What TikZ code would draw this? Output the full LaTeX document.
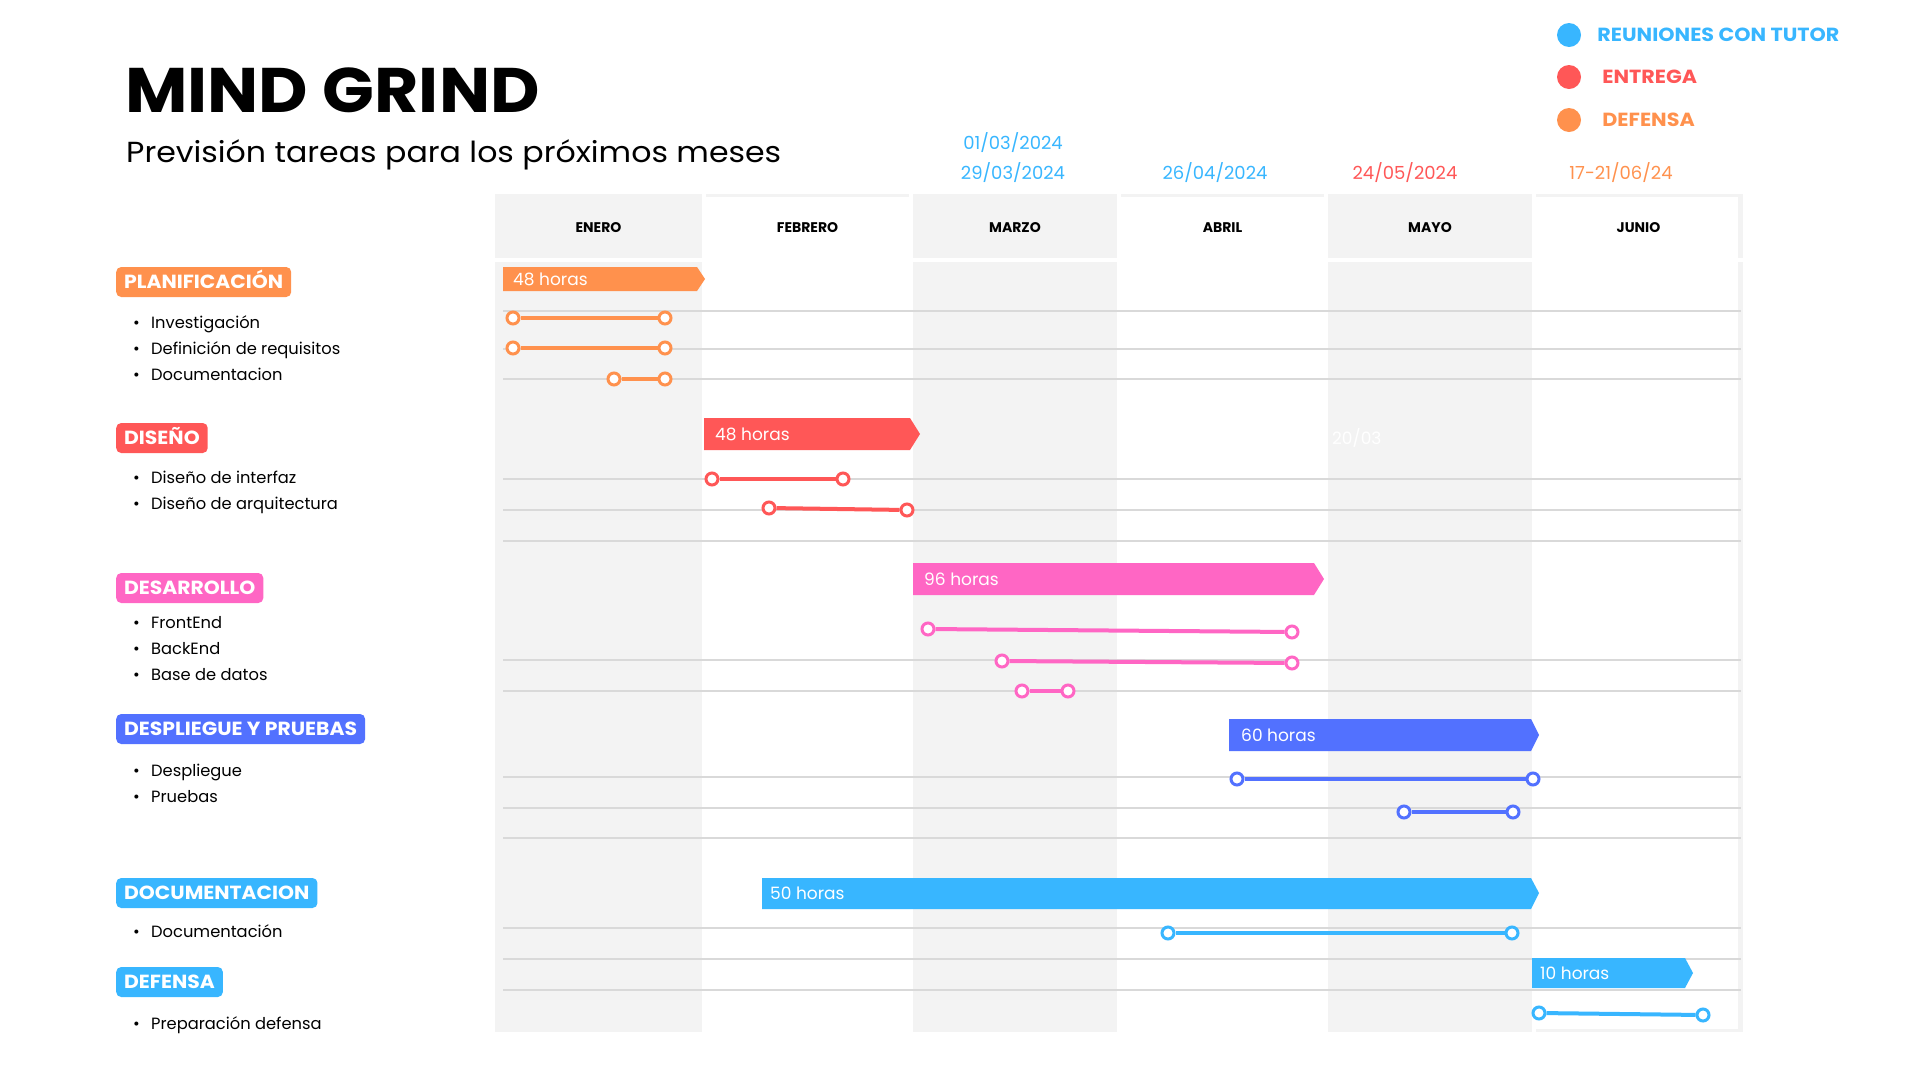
\documentclass[tikz,border=0pt]{standalone}
\usepackage{fontspec}
\setmainfont{Poppins}
\usepackage{xcolor}
\usepackage{tikz}
\usetikzlibrary{positioning}
\definecolor{mgorange}{HTML}{FF914D}
\definecolor{mgred}{HTML}{FF5757}
\definecolor{mgpink}{HTML}{FF66C4}
\definecolor{mgblue}{HTML}{5271FF}
\definecolor{mgsky}{HTML}{38B6FF}
\definecolor{mgcol}{HTML}{F3F3F3}
\definecolor{mggrid}{HTML}{D9D9D9}
\newcommand{\wide}[1]{\scalebox{1.07}[1]{#1}}
\tikzset{
  monthlbl/.style={font=\fontsize{14}{14}\selectfont\bfseries, text height=10pt,
                   text depth=0pt, inner sep=0pt},
  datelbl/.style={font=\fontsize{18}{18}\selectfont, text height=12.5pt,
                  text depth=0pt, inner sep=0pt},
  cattag/.style={anchor=west, rounded corners=5pt, text=white, inner xsep=8pt,
                 font=\fontsize{19}{19}\selectfont\bfseries, text height=13.3pt,
                 text depth=0pt, minimum height=30pt},
  taskitem/.style={anchor=base west, inner sep=0pt, font=\fontsize{16.3}{16.3}\selectfont},
  hrslbl/.style={anchor=west, inner sep=0pt, text=white,
                 font=\fontsize{17}{17}\selectfont, text height=12pt, text depth=0pt},
  gridline/.style={draw=mggrid, line width=2.5pt},
  taskend/.style={circle, draw=#1, fill=white, line width=3pt,
                  minimum size=12pt, inner sep=0pt},
  taskseg/.style={draw=#1, line width=4pt},
  legdot/.style={circle, minimum size=24pt, inner sep=0pt},
  legtxt/.style={anchor=west, inner sep=0pt, font=\fontsize{19}{19}\selectfont\bfseries,
                 text height=13.3pt, text depth=0pt},
}

\begin{document}
\begin{tikzpicture}[x=1pt, y=-1pt]
  \useasboundingbox (0,0) rectangle (1920,1080);

  % Title
  \node[anchor=base west, inner sep=0pt, font=\fontsize{63}{63}\selectfont\bfseries]
    (title) at (125,112) {\scalebox{1.08}[1]{MIND GRIND}};
  \node[anchor=base west, inner sep=0pt, font=\fontsize{29}{29}\selectfont]
    (subtitle) at (126,162) {\scalebox{1.09}[1]{Previsión tareas para los próximos meses}};

  % Legend
  \node[legdot, fill=mgsky] (leg-tutor) at (1569,35) {};
  \node[legdot, fill=mgred] (leg-entrega) at (1569,77) {};
  \node[legdot, fill=mgorange] (leg-defensa) at (1569,120) {};
  \node[legtxt, text=mgsky, right=16pt of leg-tutor] (leg-tutor-txt)
    {\scalebox{1.09}[1]{REUNIONES CON TUTOR}};
  \node[legtxt, text=mgred, right=21pt of leg-entrega] (leg-entrega-txt)
    {\scalebox{1.09}[1]{ENTREGA}};
  \node[legtxt, text=mgorange, right=21pt of leg-defensa] (leg-defensa-txt)
    {\scalebox{1.09}[1]{DEFENSA}};

  % Dates
  \node[datelbl, text=mgsky] (d-marzo-a) at (1013,143) {01/03/2024};
  \node[datelbl, text=mgsky] (d-marzo-b) at (1013,173) {29/03/2024};
  \node[datelbl, text=mgsky] (d-abril) at (1215,173) {26/04/2024};
  \node[datelbl, text=mgred] (d-mayo) at (1405,173) {24/05/2024};
  \node[datelbl, text=mgorange] (d-junio) at (1621,173) {17-21/06/24};

  % Month columns
  \foreach \m/\xa/\xb/\bg in {ENERO/495/702/mgcol, FEBRERO/706/909/white,
      MARZO/913/1117/mgcol, ABRIL/1121/1324/white, MAYO/1328/1532/mgcol,
      JUNIO/1536/1741/white} {
    \fill[\bg] (\xa,194) rectangle (\xb,258);
    \fill[\bg] (\xa,262) rectangle (\xb,1032);
    \fill[mgcol] (\xa,194) rectangle (\xb,197);
    \node[monthlbl] (hd-\m) at ({(\xa+\xb)/2},227) {\m};
  }
  \fill[mgcol] (1738,194) rectangle (1743,258);
  \fill[mgcol] (1738,262) rectangle (1743,1032);
  \fill[mgcol] (1536,1029) rectangle (1743,1032);

  % Grid lines
  \foreach \y in {311,349,379,479,510,541,660,691,777,808,838,928,959,990}
    \draw[gridline] (503,\y) -- (1741,\y);

  % Categories
  \node[cattag, fill=mgorange] (plan) at (116,282) {\wide{PLANIFICACIÓN}};
  \node[taskitem] (plan-1) at (133,328) {\makebox[18pt][l]{\textbullet}Investigación};
  \node[taskitem] (plan-2) at (133,354) {\makebox[18pt][l]{\textbullet}Definición de requisitos};
  \node[taskitem] (plan-3) at (133,380) {\makebox[18pt][l]{\textbullet}Documentacion};

  \node[cattag, fill=mgred] (dis) at (116,438) {\wide{DISEÑO}};
  \node[taskitem] (dis-1) at (133,483) {\makebox[18pt][l]{\textbullet}Diseño de interfaz};
  \node[taskitem] (dis-2) at (133,509) {\makebox[18pt][l]{\textbullet}Diseño de arquitectura};

  \node[cattag, fill=mgpink] (des) at (116,588) {\wide{DESARROLLO}};
  \node[taskitem] (des-1) at (133,628) {\makebox[18pt][l]{\textbullet}FrontEnd};
  \node[taskitem] (des-2) at (133,654) {\makebox[18pt][l]{\textbullet}BackEnd};
  \node[taskitem] (des-3) at (133,680) {\makebox[18pt][l]{\textbullet}Base de datos};

  \node[cattag, fill=mgblue] (dep) at (116,729) {\wide{DESPLIEGUE Y PRUEBAS}};
  \node[taskitem] (dep-1) at (133,776) {\makebox[18pt][l]{\textbullet}Despliegue};
  \node[taskitem] (dep-2) at (133,802) {\makebox[18pt][l]{\textbullet}Pruebas};

  \node[cattag, fill=mgsky] (doc) at (116,893) {\wide{DOCUMENTACION}};
  \node[taskitem] (doc-1) at (133,937) {\makebox[18pt][l]{\textbullet}Documentación};

  \node[cattag, fill=mgsky] (def) at (116,982) {\wide{DEFENSA}};
  \node[taskitem] (def-1) at (133,1029) {\makebox[18pt][l]{\textbullet}Preparación defensa};

  % Hour bars
  \fill[mgorange] (503,267) -- (697,267) -- (705,279) -- (697,291) -- (503,291) -- cycle;
  \node[hrslbl] (plan-hrs) at (513,279) {48 horas};
  \fill[mgred] (704,418) -- (910,418) -- (920,434) -- (910,450) -- (704,450) -- cycle;
  \node[hrslbl] (dis-hrs) at (715,434) {48 horas};
  \fill[mgpink] (913,563) -- (1314,563) -- (1324,579) -- (1314,595) -- (913,595) -- cycle;
  \node[hrslbl] (des-hrs) at (924,579) {96 horas};
  \fill[mgblue] (1229,719) -- (1531,719) -- (1539,735) -- (1531,751) -- (1229,751) -- cycle;
  \node[hrslbl] (dep-hrs) at (1241,735) {60 horas};
  \fill[mgsky] (762,878) -- (1531,878) -- (1539,893) -- (1531,909) -- (762,909) -- cycle;
  \node[hrslbl] (doc-hrs) at (770,893) {50 horas};
  \fill[mgsky] (1532,958) -- (1685,958) -- (1693,973) -- (1685,988) -- (1532,988) -- cycle;
  \node[hrslbl] (def-hrs) at (1540,973) {10 horas};
  \node[hrslbl] (note) at (1332,438) {20/03};

  % Tasks
  \node[taskend=mgorange] (t-inv-a) at (513,318) {};
  \node[taskend=mgorange] (t-inv-b) at (665,318) {};
  \draw[taskseg=mgorange] (t-inv-a) -- (t-inv-b);
  \node[taskend=mgorange] (t-req-a) at (513,348) {};
  \node[taskend=mgorange] (t-req-b) at (665,348) {};
  \draw[taskseg=mgorange] (t-req-a) -- (t-req-b);
  \node[taskend=mgorange] (t-docp-a) at (614,379) {};
  \node[taskend=mgorange] (t-docp-b) at (665,379) {};
  \draw[taskseg=mgorange] (t-docp-a) -- (t-docp-b);

  \node[taskend=mgred] (t-int-a) at (712,479) {};
  \node[taskend=mgred] (t-int-b) at (843,479) {};
  \draw[taskseg=mgred] (t-int-a) -- (t-int-b);
  \node[taskend=mgred] (t-arq-a) at (769,508) {};
  \node[taskend=mgred] (t-arq-b) at (907,510) {};
  \draw[taskseg=mgred] (t-arq-a) -- (t-arq-b);

  \node[taskend=mgpink] (t-front-a) at (928,629) {};
  \node[taskend=mgpink] (t-front-b) at (1292,632) {};
  \draw[taskseg=mgpink] (t-front-a) -- (t-front-b);
  \node[taskend=mgpink] (t-back-a) at (1002,661) {};
  \node[taskend=mgpink] (t-back-b) at (1292,663) {};
  \draw[taskseg=mgpink] (t-back-a) -- (t-back-b);
  \node[taskend=mgpink] (t-bd-a) at (1022,691) {};
  \node[taskend=mgpink] (t-bd-b) at (1068,691) {};
  \draw[taskseg=mgpink] (t-bd-a) -- (t-bd-b);

  \node[taskend=mgblue] (t-desp-a) at (1237,779) {};
  \node[taskend=mgblue] (t-desp-b) at (1533,779) {};
  \draw[taskseg=mgblue] (t-desp-a) -- (t-desp-b);
  \node[taskend=mgblue] (t-prue-a) at (1404,812) {};
  \node[taskend=mgblue] (t-prue-b) at (1513,812) {};
  \draw[taskseg=mgblue] (t-prue-a) -- (t-prue-b);

  \node[taskend=mgsky] (t-doc-a) at (1168,933) {};
  \node[taskend=mgsky] (t-doc-b) at (1512,933) {};
  \draw[taskseg=mgsky] (t-doc-a) -- (t-doc-b);

  \node[taskend=mgsky] (t-def-a) at (1539,1013) {};
  \node[taskend=mgsky] (t-def-b) at (1703,1015) {};
  \draw[taskseg=mgsky] (t-def-a) -- (t-def-b);
\end{tikzpicture}
\end{document}
